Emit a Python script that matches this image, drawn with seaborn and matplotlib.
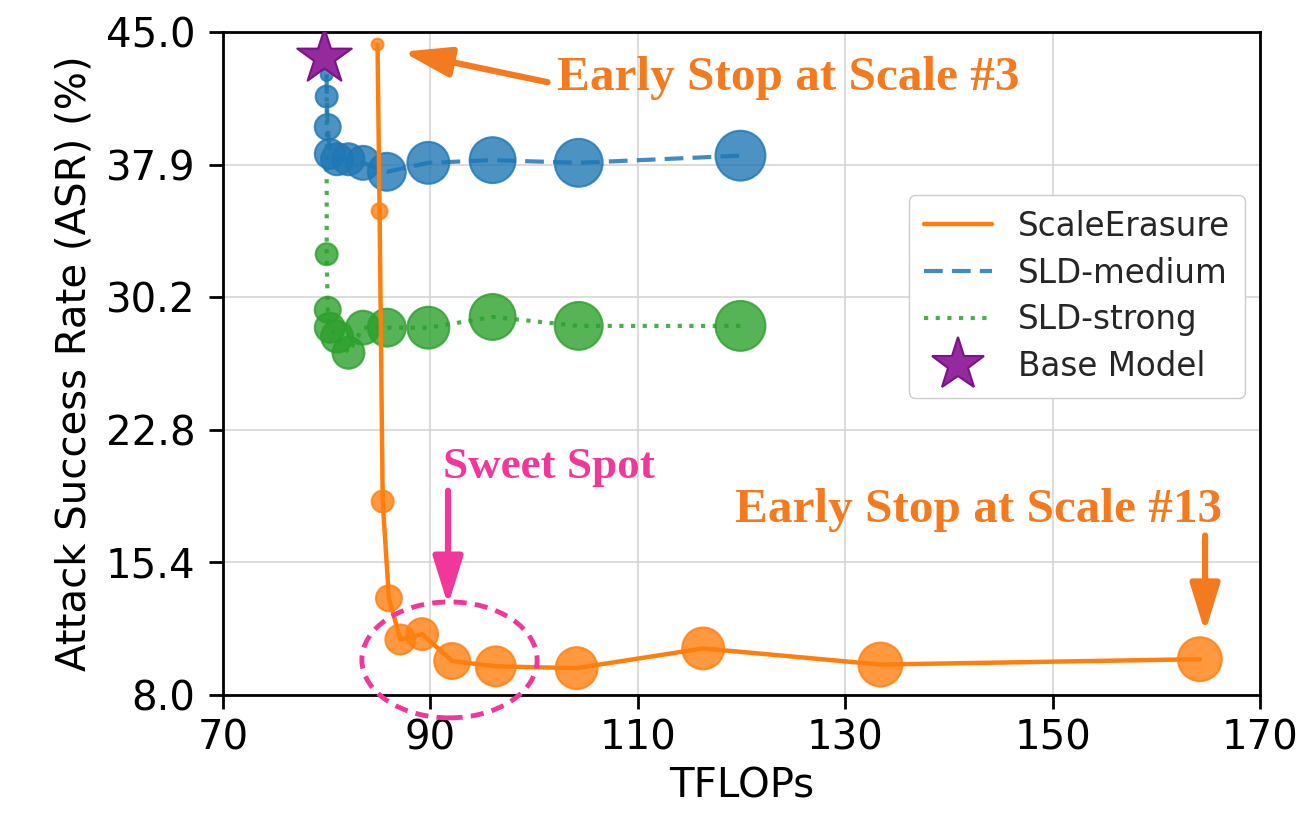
import numpy as np
import seaborn as sns
import matplotlib.pyplot as plt
from matplotlib.patches import Ellipse
from matplotlib.lines import Line2D

# ScaleErasure: one point per scale step (early stop #3 ... #13)
se_tflops = [84.9, 85.1, 85.4, 86.0, 87.1, 89.2, 92.1, 96.3, 104.1, 116.3, 133.4, 164.2]
se_asr = [44.3, 35.0, 18.8, 13.4, 11.1, 11.4, 9.9, 9.6, 9.5, 10.6, 9.7, 10.0]

# SLD baselines share the same compute budget per step
sld_tflops = [80.0, 80.0, 80.1, 80.3, 81.0, 82.1, 83.5, 85.8, 89.8, 96.0, 104.3, 119.9]
sld_medium_asr = [42.6, 41.4, 39.7, 38.2, 37.9, 37.9, 37.7, 37.2, 37.7, 37.85, 37.7, 38.1]
sld_strong_asr = [43.3, 32.6, 29.5, 28.5, 28.0, 27.1, 28.5, 28.5, 28.5, 29.1, 28.6, 28.6]

base_tflops = [79.7]
base_asr = [43.6]

x_ticks = [70, 90, 110, 130, 150, 170]
y_ticks = np.linspace(8.0, 45.0, 6)
y_tick_labels = ["8.0", "15.4", "22.8", "30.2", "37.9", "45.0"]

# marker radius in px per step
se_radius = [7, 9, 12, 14, 16, 17, 19, 21, 22, 22, 23, 23]
sld_radius = [7, 12, 14, 16, 17, 17, 18, 20, 22, 24, 25, 26]


def area(radii):
    return [(1.44 * r - 1.5) ** 2 for r in radii]


ORANGE = "#ff7f0e"
BLUE = "#1f77b4"
GREEN = "#2ca02c"
PURPLE = "#952A9F"
TXT_ORANGE = "#F47A1F"
PINK = "#F2379A"

sns.set_style("whitegrid")
plt.rcParams["font.family"] = ["DejaVu Sans"]

fig, ax = plt.subplots(figsize=(13.01, 8.17), dpi=100)
fig.subplots_adjust(left=0.1714, right=0.9685, top=0.9608, bottom=0.1493)

# markers
sns.scatterplot(x=sld_tflops, y=sld_medium_asr, s=area(sld_radius), color=BLUE,
                alpha=0.8, edgecolor=BLUE, linewidth=1.5, ax=ax, legend=False, zorder=3)
sns.scatterplot(x=sld_tflops, y=sld_strong_asr, s=area(sld_radius), color=GREEN,
                alpha=0.8, edgecolor=GREEN, linewidth=1.5, ax=ax, legend=False, zorder=3)
sns.scatterplot(x=se_tflops, y=se_asr, s=area(se_radius), color=ORANGE,
                alpha=0.8, edgecolor=ORANGE, linewidth=1.5, ax=ax, legend=False, zorder=3)

# lines
sns.lineplot(x=sld_tflops, y=sld_medium_asr, sort=False, estimator=None, color=BLUE,
             lw=3, linestyle=(0, (4.5, 2.2)), alpha=0.85, ax=ax, zorder=4)
sns.lineplot(x=sld_tflops, y=sld_strong_asr, sort=False, estimator=None, color=GREEN,
             lw=3, linestyle=(0, (1, 1.8)), alpha=0.85, ax=ax, zorder=2)
sns.lineplot(x=se_tflops, y=se_asr, sort=False, estimator=None, color=ORANGE,
             lw=3.2, ax=ax, zorder=5)

sns.scatterplot(x=base_tflops, y=base_asr, marker="*", s=1700, color=PURPLE,
                edgecolor="#7A1486", linewidth=1.5, ax=ax, legend=False, zorder=6)

ax.set_xlim(70, 170)
ax.set_ylim(8.0, 45.0)
ax.set_xticks(x_ticks)
ax.set_yticks(y_ticks)
ax.set_yticklabels(y_tick_labels)
ax.set_xlabel("TFLOPs", fontsize=29, color="black", labelpad=6)
ax.set_ylabel("Attack Success Rate (ASR) (%)", fontsize=29, color="black", labelpad=8)
ax.tick_params(axis="both", which="major", bottom=True, left=True, length=10,
               width=2, color="black", labelsize=29, labelcolor="black")
ax.tick_params(axis="x", pad=7)
ax.tick_params(axis="y", pad=10)
ax.grid(True, color="#d6d6d6", lw=1.2)
for sp in ax.spines.values():
    sp.set_color("black")
    sp.set_linewidth(2)

# annotations
arrow = dict(arrowstyle="-|>,head_length=1.45,head_width=0.45", lw=4.5,
             mutation_scale=20, shrinkA=0, shrinkB=0)
ax.annotate("", xy=(87.3, 43.9), xytext=(101.3, 42.2),
            arrowprops=dict(arrow, color=TXT_ORANGE), zorder=7)
ax.text(102.2, 42.45, "Early Stop at Scale #3", color=TXT_ORANGE, fontsize=35.5,
        family="Liberation Serif", weight="bold", ha="left", va="center")

ax.annotate("", xy=(91.7, 13.0), xytext=(91.7, 19.4),
            arrowprops=dict(arrow, color=PINK), zorder=7)
ax.text(91.2, 20.7, "Sweet Spot", color=PINK, fontsize=32.5,
        family="Liberation Serif", weight="bold", ha="left", va="center")
ax.add_patch(Ellipse((91.84, 9.96), width=16.9, height=6.47, fill=False,
                     edgecolor=PINK, lw=3.5, linestyle=(0, (2.7, 1.7)),
                     clip_on=False, zorder=8))

ax.annotate("", xy=(164.7, 11.5), xytext=(164.7, 16.9),
            arrowprops=dict(arrow, color=TXT_ORANGE), zorder=7)
ax.text(119.4, 18.3, "Early Stop at Scale #13", color=TXT_ORANGE, fontsize=35.5,
        family="Liberation Serif", weight="bold", ha="left", va="center")

handles = [
    Line2D([], [], color=ORANGE, lw=3.2),
    Line2D([], [], color=BLUE, lw=3, linestyle=(0, (4.5, 2.2)), alpha=0.85),
    Line2D([], [], color=GREEN, lw=3, linestyle=(0, (1, 1.8)), alpha=0.85),
    Line2D([], [], color=PURPLE, marker="*", markersize=40, linestyle="none",
           markeredgecolor="#7A1486", markeredgewidth=1.5),
]
labels = ["ScaleErasure", "SLD-medium", "SLD-strong", "Base Model"]
ax.legend(handles, labels, loc="upper right", bbox_to_anchor=(0.9855, 0.754),
          borderaxespad=0, fontsize=23.5, frameon=True, edgecolor="#cccccc",
          framealpha=1, handlelength=2.1, borderpad=0.45, labelspacing=0.42)

plt.savefig("out.png", dpi=100)
